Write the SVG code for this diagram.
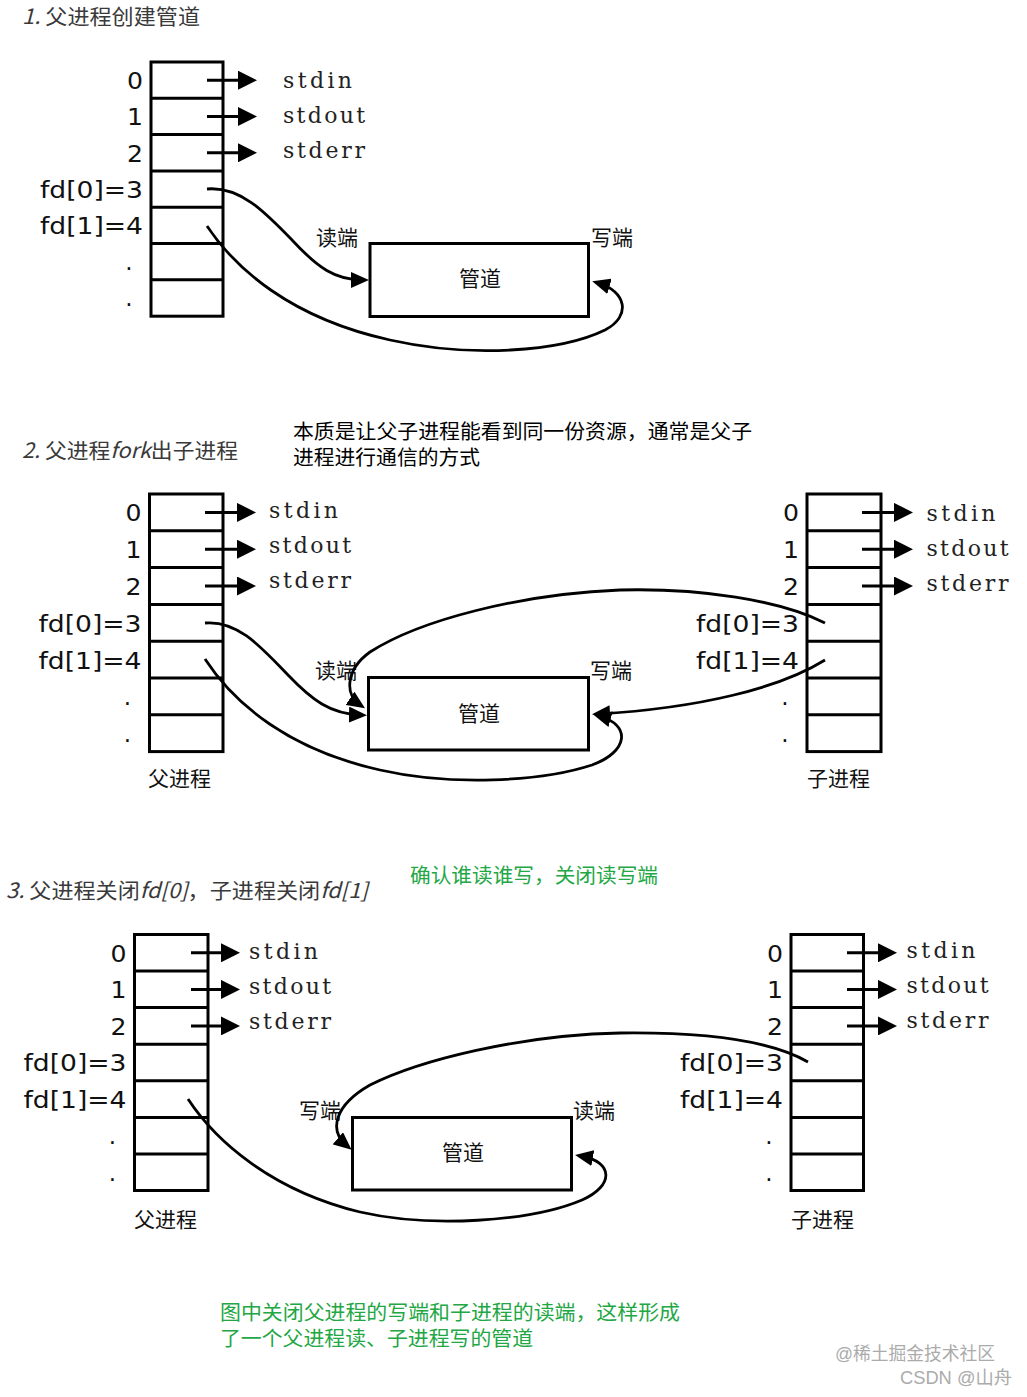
<svg xmlns="http://www.w3.org/2000/svg" width="1027" height="1397" viewBox="0 0 1027 1397">
<style>
.tbl{fill:none;stroke:#000;stroke-width:3}
.pipe{fill:#fff;stroke:#000;stroke-width:3}
.sh{fill:none;stroke:#000;stroke-width:3}
.cv{fill:none;stroke:#000;stroke-width:2.8}
.num{font-family:"DejaVu Sans",sans-serif;font-size:23px;fill:#111}
.std{font-family:"DejaVu Serif",serif;font-size:22px;fill:#222}
.cjk{font-family:"Noto Sans CJK SC",sans-serif;font-size:21px;fill:#111}
.title{font-family:"Noto Sans CJK SC",sans-serif;font-size:21px;fill:#3a3a3a}
.note{font-family:"Liberation Serif","Noto Sans CJK SC",serif;font-size:20px;fill:#000}
.green{fill:#22a744}
.wm{font-family:"Liberation Sans","Noto Sans CJK SC",sans-serif;font-size:18px;fill:#ababab}
.it{font-style:italic}
</style>
<defs>
<marker id="ah" markerUnits="userSpaceOnUse" markerWidth="19" markerHeight="19" refX="14" refY="9.5" orient="auto"><path d="M0,0 L19,9.5 L0,19 z" fill="#000"/></marker>
<marker id="ac" markerUnits="userSpaceOnUse" markerWidth="18" markerHeight="16" refX="12" refY="8" orient="auto"><path d="M0,0 L18,8 L0,16 z" fill="#000"/></marker>
</defs>
<rect width="1027" height="1397" fill="#fff"/>

<!-- Titles and notes -->
<g id="title1"><text class="title" x="22" y="23.5" textLength="178" lengthAdjust="spacingAndGlyphs"><tspan class="it">1. </tspan>父进程创建管道</text></g>
<g id="title2"><text class="title" x="22" y="458" textLength="216" lengthAdjust="spacingAndGlyphs"><tspan class="it">2. </tspan>父进程<tspan class="it">fork</tspan>出子进程</text></g>
<g id="note2">
<text class="note" x="293" y="439" textLength="459" lengthAdjust="spacingAndGlyphs">本质是让父子进程能看到同一份资源，通常是父子</text>
<text class="note" x="293" y="465" textLength="187" lengthAdjust="spacingAndGlyphs">进程进行通信的方式</text>
</g>
<g id="title3"><text class="title" x="6" y="898" textLength="362" lengthAdjust="spacingAndGlyphs"><tspan class="it">3. </tspan>父进程关闭<tspan class="it">fd[0]</tspan>，子进程关闭<tspan class="it">fd[1]</tspan></text></g>
<g id="note3"><text class="note green" x="410" y="883" textLength="248" lengthAdjust="spacingAndGlyphs">确认谁读谁写，关闭读写端</text></g>
<g id="note4">
<text class="note green" x="220" y="1320" textLength="460" lengthAdjust="spacingAndGlyphs">图中关闭父进程的写端和子进程的读端，这样形成</text>
<text class="note green" x="220" y="1346" textLength="313" lengthAdjust="spacingAndGlyphs">了一个父进程读、子进程写的管道</text>
</g>
<g id="watermark">
<text class="wm" x="835" y="1360" textLength="160" lengthAdjust="spacingAndGlyphs">@稀土掘金技术社区</text>
<text class="wm" x="900" y="1384" textLength="112" lengthAdjust="spacingAndGlyphs">CSDN @山舟</text>
</g>

<!-- Section 1 -->
<g id="s1-parent">
<rect class="tbl" x="151" y="62" width="72" height="254.2"/>
<path class="tbl" d="M151,98.3H223M151,134.6H223M151,170.9H223M151,207.2H223M151,243.5H223M151,279.8H223"/>
<text class="num" x="127" y="89" textLength="16" lengthAdjust="spacingAndGlyphs">0</text>
<text class="num" x="127" y="125.3" textLength="16" lengthAdjust="spacingAndGlyphs">1</text>
<text class="num" x="127" y="161.6" textLength="16" lengthAdjust="spacingAndGlyphs">2</text>
<text class="num" x="40" y="197.9" textLength="103" lengthAdjust="spacingAndGlyphs">fd[0]=3</text>
<text class="num" x="40" y="234.2" textLength="103" lengthAdjust="spacingAndGlyphs">fd[1]=4</text>
<text class="num" x="129" y="269.8" text-anchor="middle">.</text>
<text class="num" x="129" y="306.1" text-anchor="middle">.</text>
<text class="std" x="283" y="88" textLength="69" lengthAdjust="spacing">stdin</text>
<text class="std" x="283" y="123" textLength="82" lengthAdjust="spacing">stdout</text>
<text class="std" x="283" y="158" textLength="82" lengthAdjust="spacing">stderr</text>
</g>
<g id="s1-pipe">
<rect class="pipe" x="370" y="243.5" width="218.5" height="73"/>
<text class="cjk" x="480" y="286" text-anchor="middle">管道</text>
<text class="cjk" x="316" y="245">读端</text>
<text class="cjk" x="591" y="245">写端</text>
</g>

<!-- Section 2 -->
<g id="s2-parent">
<rect class="tbl" x="149.5" y="494" width="73.5" height="257.6"/>
<path class="tbl" d="M149.5,530.8H223M149.5,567.6H223M149.5,604.4H223M149.5,641.2H223M149.5,678H223M149.5,714.8H223"/>
<text class="num" x="125.5" y="521.3" textLength="16" lengthAdjust="spacingAndGlyphs">0</text>
<text class="num" x="125.5" y="558.1" textLength="16" lengthAdjust="spacingAndGlyphs">1</text>
<text class="num" x="125.5" y="594.9" textLength="16" lengthAdjust="spacingAndGlyphs">2</text>
<text class="num" x="38.5" y="631.7" textLength="103" lengthAdjust="spacingAndGlyphs">fd[0]=3</text>
<text class="num" x="38.5" y="668.5" textLength="103" lengthAdjust="spacingAndGlyphs">fd[1]=4</text>
<text class="num" x="127.5" y="704.8" text-anchor="middle">.</text>
<text class="num" x="127.5" y="741.6" text-anchor="middle">.</text>
<text class="std" x="269" y="518" textLength="69" lengthAdjust="spacing">stdin</text>
<text class="std" x="269" y="553" textLength="82" lengthAdjust="spacing">stdout</text>
<text class="std" x="269" y="588" textLength="82" lengthAdjust="spacing">stderr</text>
<text class="cjk" x="148" y="786">父进程</text>
</g>
<g id="s2-child">
<rect class="tbl" x="807" y="494" width="74" height="257.6"/>
<path class="tbl" d="M807,530.8H881M807,567.6H881M807,604.4H881M807,641.2H881M807,678H881M807,714.8H881"/>
<text class="num" x="783" y="521.3" textLength="16" lengthAdjust="spacingAndGlyphs">0</text>
<text class="num" x="783" y="558.1" textLength="16" lengthAdjust="spacingAndGlyphs">1</text>
<text class="num" x="783" y="594.9" textLength="16" lengthAdjust="spacingAndGlyphs">2</text>
<text class="num" x="696" y="631.7" textLength="103" lengthAdjust="spacingAndGlyphs">fd[0]=3</text>
<text class="num" x="696" y="668.5" textLength="103" lengthAdjust="spacingAndGlyphs">fd[1]=4</text>
<text class="num" x="785" y="704.8" text-anchor="middle">.</text>
<text class="num" x="785" y="741.6" text-anchor="middle">.</text>
<text class="std" x="926.5" y="520.5" textLength="69" lengthAdjust="spacing">stdin</text>
<text class="std" x="926.5" y="556" textLength="82" lengthAdjust="spacing">stdout</text>
<text class="std" x="926.5" y="590.5" textLength="82" lengthAdjust="spacing">stderr</text>
<text class="cjk" x="807" y="786">子进程</text>
</g>
<g id="s2-pipe">
<rect class="pipe" x="368.5" y="677.5" width="220" height="72.5"/>
<text class="cjk" x="479" y="721" text-anchor="middle">管道</text>
<text class="cjk" x="315" y="678">读端</text>
<text class="cjk" x="590" y="678">写端</text>
</g>

<!-- Section 3 -->
<g id="s3-parent">
<rect class="tbl" x="134.5" y="934.5" width="73.5" height="256"/>
<path class="tbl" d="M134.5,971.1H208M134.5,1007.6H208M134.5,1044.2H208M134.5,1080.8H208M134.5,1117.4H208M134.5,1153.9H208"/>
<text class="num" x="110.5" y="961.6" textLength="16" lengthAdjust="spacingAndGlyphs">0</text>
<text class="num" x="110.5" y="998.1" textLength="16" lengthAdjust="spacingAndGlyphs">1</text>
<text class="num" x="110.5" y="1034.7" textLength="16" lengthAdjust="spacingAndGlyphs">2</text>
<text class="num" x="23.5" y="1071.3" textLength="103" lengthAdjust="spacingAndGlyphs">fd[0]=3</text>
<text class="num" x="23.5" y="1107.9" textLength="103" lengthAdjust="spacingAndGlyphs">fd[1]=4</text>
<text class="num" x="112.5" y="1143.9" text-anchor="middle">.</text>
<text class="num" x="112.5" y="1180.5" text-anchor="middle">.</text>
<text class="std" x="249" y="959" textLength="69" lengthAdjust="spacing">stdin</text>
<text class="std" x="249" y="994" textLength="82" lengthAdjust="spacing">stdout</text>
<text class="std" x="249" y="1029" textLength="82" lengthAdjust="spacing">stderr</text>
<text class="cjk" x="134" y="1227">父进程</text>
</g>
<g id="s3-child">
<rect class="tbl" x="791" y="934.5" width="72.5" height="256"/>
<path class="tbl" d="M791,971.1H863.5M791,1007.6H863.5M791,1044.2H863.5M791,1080.8H863.5M791,1117.4H863.5M791,1153.9H863.5"/>
<text class="num" x="767" y="961.6" textLength="16" lengthAdjust="spacingAndGlyphs">0</text>
<text class="num" x="767" y="998.1" textLength="16" lengthAdjust="spacingAndGlyphs">1</text>
<text class="num" x="767" y="1034.7" textLength="16" lengthAdjust="spacingAndGlyphs">2</text>
<text class="num" x="680" y="1071.3" textLength="103" lengthAdjust="spacingAndGlyphs">fd[0]=3</text>
<text class="num" x="680" y="1107.9" textLength="103" lengthAdjust="spacingAndGlyphs">fd[1]=4</text>
<text class="num" x="769" y="1143.9" text-anchor="middle">.</text>
<text class="num" x="769" y="1180.5" text-anchor="middle">.</text>
<text class="std" x="906.5" y="958.3" textLength="69" lengthAdjust="spacing">stdin</text>
<text class="std" x="906.5" y="992.7" textLength="82" lengthAdjust="spacing">stdout</text>
<text class="std" x="906.5" y="1028" textLength="82" lengthAdjust="spacing">stderr</text>
<text class="cjk" x="791" y="1227">子进程</text>
</g>
<g id="s3-pipe">
<rect class="pipe" x="352.5" y="1117.5" width="219" height="72.5"/>
<text class="cjk" x="463" y="1160" text-anchor="middle">管道</text>
<text class="cjk" x="299" y="1118">写端</text>
<text class="cjk" x="573" y="1118">读端</text>
</g>

<!-- Connectors -->
<g id="connectors">
<path class="sh" d="M207,80.2H252" marker-end="url(#ah)"/>
<path class="sh" d="M207,116.5H252" marker-end="url(#ah)"/>
<path class="sh" d="M207,152.8H252" marker-end="url(#ah)"/>
<path class="sh" d="M205,512.4H251" marker-end="url(#ah)"/>
<path class="sh" d="M205,549.2H251" marker-end="url(#ah)"/>
<path class="sh" d="M205,586H251" marker-end="url(#ah)"/>
<path class="sh" d="M862,512.4H908" marker-end="url(#ah)"/>
<path class="sh" d="M862,549.2H908" marker-end="url(#ah)"/>
<path class="sh" d="M862,586H908" marker-end="url(#ah)"/>
<path class="sh" d="M191,952.8H235" marker-end="url(#ah)"/>
<path class="sh" d="M191,989.4H235" marker-end="url(#ah)"/>
<path class="sh" d="M191,1025.9H235" marker-end="url(#ah)"/>
<path class="sh" d="M847,952.8H892" marker-end="url(#ah)"/>
<path class="sh" d="M847,989.4H892" marker-end="url(#ah)"/>
<path class="sh" d="M847,1025.9H892" marker-end="url(#ah)"/>
<path class="cv" marker-end="url(#ac)" d="M207,189 C240,186 265,212 292,240 C318,268 335,280 363,280"/>
<path class="cv" marker-end="url(#ac)" d="M207,226 C235,268 290,318 390,340 C470,358 560,352 605,330 C632,316 626,291 598,283"/>
<path class="cv" marker-end="url(#ac)" d="M205,623 C238,620 262,648 288,675 C312,700 330,714 361,715"/>
<path class="cv" marker-end="url(#ac)" d="M825,623 C780,600 700,588 620,590 C520,594 420,620 370,652 C345,670 345,695 360,705"/>
<path class="cv" marker-end="url(#ac)" d="M205,659 C235,705 290,750 380,770 C450,786 540,782 592,765 C628,752 632,725 599,716"/>
<path class="cv" marker-end="url(#ac)" d="M825,660 C780,688 700,708 598,714"/>
<path class="cv" marker-end="url(#ac)" d="M188,1099 C215,1140 270,1190 360,1212 C430,1228 530,1222 582,1200 C614,1186 614,1162 581,1156"/>
<path class="cv" marker-end="url(#ac)" d="M808,1062 C770,1040 700,1032 620,1033 C520,1035 420,1060 370,1085 C335,1105 328,1130 347,1146"/>
</g>
</svg>
